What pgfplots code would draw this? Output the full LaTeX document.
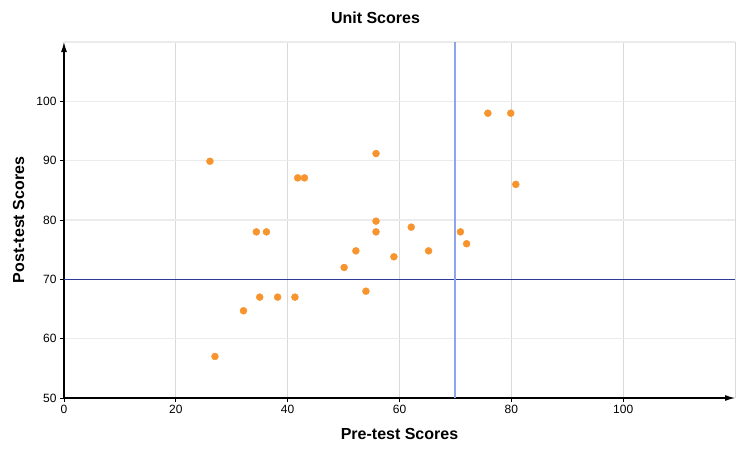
\documentclass[border=0pt]{standalone}
\usepackage{fontspec}
\setmainfont{Liberation Sans}
\usepackage{pgfplots}
\pgfplotsset{compat=1.18}
\usetikzlibrary{arrows.meta}
\definecolor{ptorange}{RGB}{247,148,46}
\definecolor{vline}{RGB}{143,165,235}
\definecolor{hline}{RGB}{45,60,150}
\definecolor{vgrid}{RGB}{217,217,217}
\definecolor{hgrid}{RGB}{235,235,235}
\begin{document}
\begin{tikzpicture}
\path[use as bounding box] (-64bp,-52bp) rectangle (687bp,398bp);
\begin{axis}[
  at={(0,0)}, anchor=south west,
  scale only axis, width=671bp, height=356bp,
  xmin=0, xmax=120, ymin=50, ymax=110,
  axis lines=left,
  axis line style={line width=1.2bp, -{Latex[length=10bp,width=6bp]}},
  xtick={0,20,...,100}, ytick={50,60,...,100},
  extra x ticks={120}, extra x tick labels={},
  extra y ticks={110}, extra y tick labels={},
  extra tick style={major tick length=0pt, grid=major},
  tick align=outside, major tick length=4bp,
  tick style={black, line width=0.8bp},
  x grid style={vgrid, line width=1bp},
  y grid style={hgrid, line width=1.5bp},
  grid=major,
  /pgf/number format/assume math mode=true,
  ticklabel style={font=\fontsize{12bp}{14bp}\selectfont, text=black},
  xlabel={Pre-test Scores},
  ylabel={Post-test Scores},
  title={Unit Scores},
  every axis title shift=0pt,
  label style={font=\bfseries\fontsize{16bp}{19bp}\selectfont},
  xlabel style={at={(axis description cs:0.5,-0.1152)}, anchor=base},
  ylabel style={at={(axis description cs:-0.0596,0.5)}, anchor=base, rotate=0},
  title style={at={(axis description cs:0.4642,1.0506)}, anchor=base, font=\bfseries\fontsize{16bp}{19bp}\selectfont},
  clip=false,
]
\addplot[hline, line width=1bp] coordinates {(0,70) (120,70)};
\addplot[vline, line width=2bp] coordinates {(70,50) (70,110)};
\addplot[only marks, mark=*, mark size=3.5bp, mark options={draw=ptorange, fill=ptorange}] coordinates {
(26.1,89.9) (27,57) (32.1,64.7) (34.4,78) (35,67) (36.2,78) (38.2,67) (41.3,67)
(41.8,87.1) (43,87.1) (50.1,72) (52.2,74.8) (54,68) (55.8,91.2) (55.8,79.8) (55.8,78)
(59,73.8) (62.1,78.8) (65.2,74.8) (70.9,78) (72,76) (75.8,98) (79.9,98) (80.8,86)
};
\end{axis}
\end{tikzpicture}
\end{document}
